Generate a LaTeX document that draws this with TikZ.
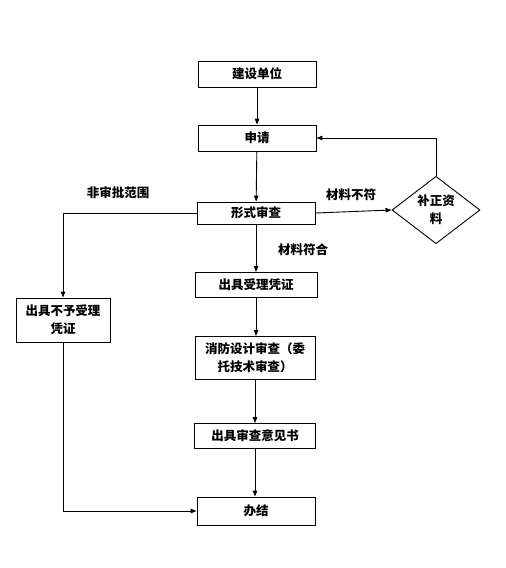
\documentclass[tikz,border=0pt]{standalone}
\usepackage{fontspec}
\setmainfont{Noto Sans CJK SC}
\usepackage{tikz}
\usetikzlibrary{shapes.geometric,arrows.meta,positioning,calc}

\begin{document}
\begin{tikzpicture}[x=1pt, y=-1pt,
    stepbox/.style={rectangle, draw=black, line width=0.9pt, fill=white, minimum width=118pt, minimum height=26pt, inner sep=2pt, align=center, font=\fontsize{12.5}{18}\selectfont\bfseries},
    checkbox/.style={diamond, draw=black, line width=0.9pt, fill=white, minimum width=88pt, minimum height=66pt, inner sep=0pt, align=center, font=\fontsize{12.5}{18}\selectfont\bfseries},
    tag/.style={font=\fontsize{12.5}{15}\selectfont\bfseries, inner sep=1pt},
    flow/.style={draw=black, line width=0.9pt, -{Triangle[length=6pt,width=4.5pt]}}
]
    \useasboundingbox (0,0) rectangle (506,568);

    % main column
    \node[stepbox] (unit) at (257,74) {建设单位};
    \node[stepbox] (apply) at (257,138) {申请};
    \node[stepbox, minimum height=22pt] (check) at (256,213) {形式审查};
    \node[stepbox, minimum width=122pt, minimum height=25pt] (accept) at (256,285) {出具受理凭证};
    \node[stepbox, minimum width=120pt, minimum height=43pt] (review) at (255,358) {消防设计审查（委\\托技术审查）};
    \node[stepbox, minimum width=121pt, minimum height=25pt] (opinion) at (255,436) {出具审查意见书};
    \node[stepbox, minimum height=28pt] (done) at (256,511) {办结};

    % side branches
    \node[stepbox, minimum width=94pt, minimum height=44pt] (reject) at (63,320) {出具不予受理\\凭证};
    \node[checkbox] (fix) at (436,210) {补正资\\料};

    % labels
    \node[tag] (outscope) at (118,193) {非审批范围};
    \node[tag] (mismatch) at (351,195) {材料不符};
    \node[tag] (match) at (303,250) {材料符合};

    \draw[flow] (unit) -- (apply);
    \draw[flow] (apply) -- (check);
    \draw[flow] (check) -- (check |- accept.north);
    \draw[flow] (accept) -- (accept |- review.north);
    \draw[flow] (review) -- (review |- opinion.north);
    \draw[flow] (opinion) -- (opinion |- done.north);

    \draw[flow] (check.west) -| (reject.north);
    \draw[flow] (check.east) -- (fix.west);
    \draw[flow] (fix.north) |- (apply.east);
    \draw[flow] (reject.south) |- (done.west);
\end{tikzpicture}
\end{document}
